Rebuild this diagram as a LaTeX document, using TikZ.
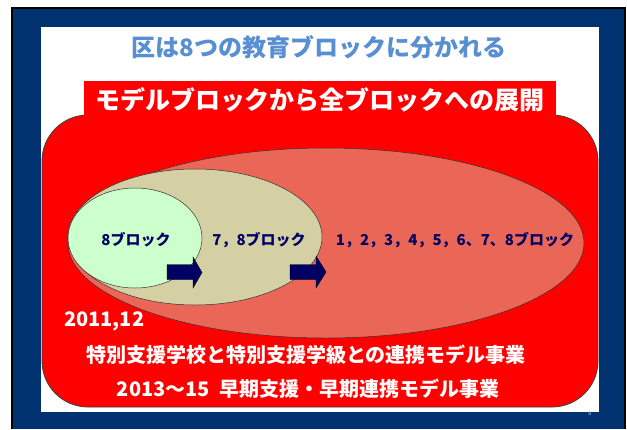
\documentclass[tikz,border=0pt]{standalone}
\usepackage{fontspec}
\newfontfamily\jp{Noto Sans CJK JP}
\definecolor{frameblue}{RGB}{0,50,112}
\definecolor{titleblue}{RGB}{88,142,210}
\definecolor{salmon}{RGB}{234,102,86}
\definecolor{tan}{RGB}{212,208,164}
\definecolor{lightgreen}{RGB}{204,255,204}
\definecolor{navy}{RGB}{0,0,100}
\begin{document}
\begin{tikzpicture}[x=1pt,y=-1pt,
  lbl/.style={font=\jp\bfseries\fontsize{15}{15}\selectfont, text=navy, inner sep=0pt},
  wtxt/.style={font=\jp\bfseries\fontsize{20}{20}\selectfont, text=white, inner sep=0pt},
  blockarrow/.style={fill=navy, draw=black, line width=0.4pt},
  ell/.style={draw=black!80, line width=0.5pt}]
\useasboundingbox (0,0) rectangle (627,429);
% frame
\fill[frameblue] (12,8) rectangle (625,429);
\draw[black, line width=2pt] (12,429) -- (12,8) -- (625,8) -- (625,429);
\fill[white] (41,27) rectangle (599,412);
% title
\node[font=\jp\bfseries\fontsize{24}{24}\selectfont, text=titleblue, inner sep=0pt] (title) at (319,47) {区は8つの教育ブロックに分かれる};
% rounded red panel
\filldraw[fill=red, draw=black!75, line width=0.8pt, rounded corners=46pt] (42,115) rectangle (598,407);
% banner
\fill[red] (84,81) rectangle (556,117);
\node[font=\jp\bfseries\fontsize{25}{25}\selectfont, text=white, inner sep=0pt] (banner) at (320,100) {モデルブロックから全ブロックへの展開};
% ellipses
\draw[ell, fill=salmon] (326,243) ellipse [x radius=258, y radius=95];
\draw[ell, fill=tan] (195,237) ellipse [x radius=127, y radius=68];
\draw[ell, fill=lightgreen] (135,238) ellipse [x radius=67, y radius=50];
% labels
\node[lbl] (b8) at (136,240) {8ブロック};
\node[lbl] (b78) at (259,240) {7，8ブロック};
\node[lbl] (ball) at (455,240) {1，2，3，4，5，6、7、8ブロック};
% block arrows
\filldraw[blockarrow] (167,264.5) -- (193,264.5) -- (193,257) -- (202,272.5) -- (193,288) -- (193,279.5) -- (167,279.5) -- cycle;
\filldraw[blockarrow] (290,264.5) -- (316,264.5) -- (316,256) -- (326,272) -- (316,288) -- (316,279.5) -- (290,279.5) -- cycle;
% bottom texts
\node[wtxt, anchor=west] (yr) at (64,321) {2011,12};
\node[wtxt] (proj1) at (306,355) {特別支援学校と特別支援学級との連携モデル事業};
\node[wtxt] (proj2) at (308,389) {2013～15\ \ 早期支援・早期連携モデル事業};
% page number
\node[font=\sffamily\fontsize{6}{6}\selectfont, text=titleblue!60!white, inner sep=0pt] (pg) at (590,414) {8};
\end{tikzpicture}
\end{document}
